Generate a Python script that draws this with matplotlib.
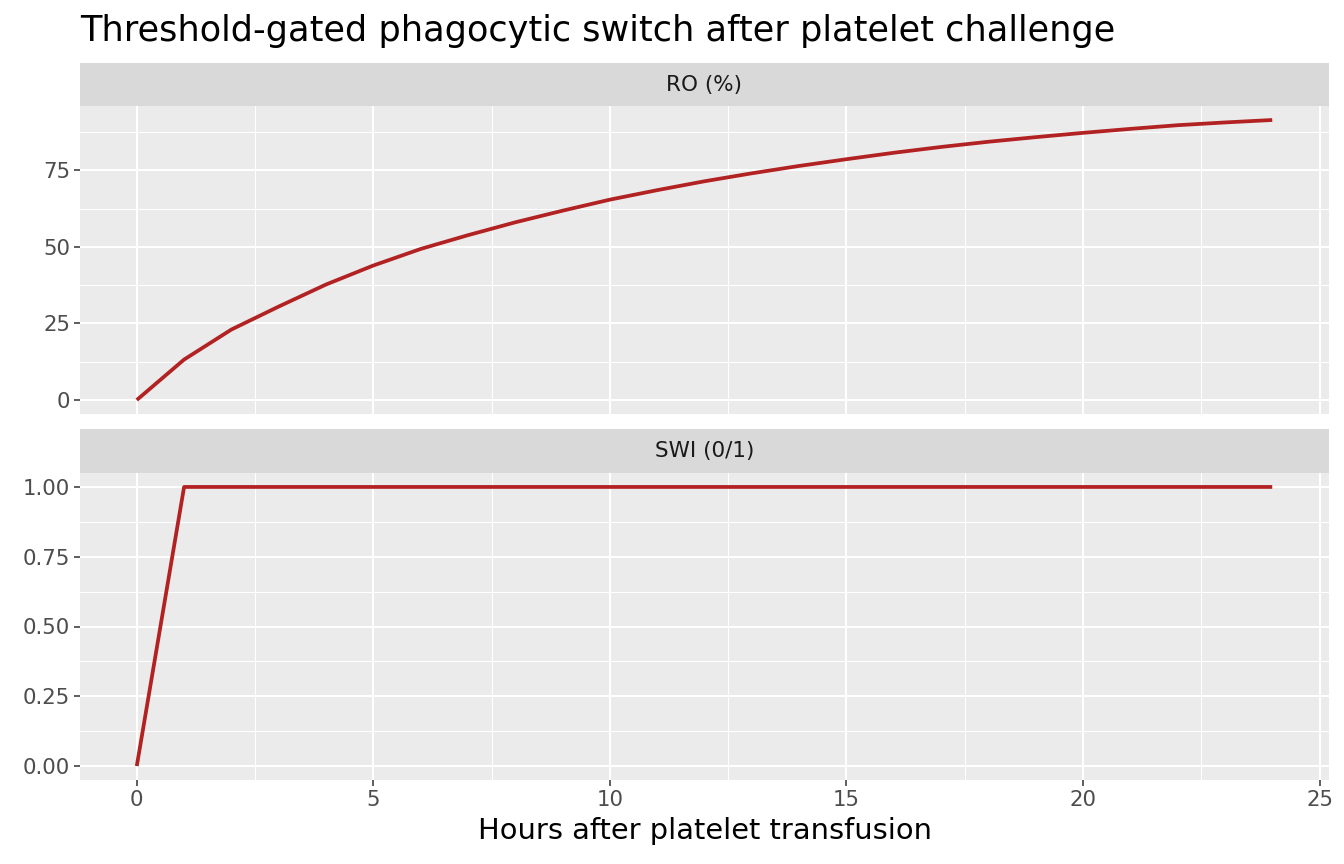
import numpy as np
import matplotlib
matplotlib.use("Agg")
import matplotlib.pyplot as plt
from matplotlib.ticker import MultipleLocator

hours = list(range(0, 25))
ro_pct = [0, 13.2, 23.0, 30.5, 37.7, 43.9, 49.3, 53.8, 58.0, 61.8, 65.4, 68.5, 71.4,
          74.0, 76.4, 78.6, 80.7, 82.6, 84.3, 85.8, 87.2, 88.5, 89.7, 90.6, 91.4]
swi = [0] + [1] * 24

panels = ["RO (%)", "SWI (0/1)"]
title = "Threshold-gated phagocytic switch after platelet challenge"
xlabel = "Hours after platelet transfusion"

W, H = 1344, 864
fig = plt.figure(figsize=(W / 100, H / 100), dpi=100)

def fx(px):
    return px / W

def fy(py):
    return 1 - py / H

line_col = "#B22222"
bg = "#EBEBEB"
strip_bg = "#D9D9D9"

def make_panel(top_px, bot_px, strip_top_px, label, yvals, yticks, ylabels, minor, show_x):
    ax = fig.add_axes([fx(80), fy(bot_px), fx(1329) - fx(80), fy(top_px) - fy(bot_px)])
    ax.set_facecolor(bg)
    for s in ax.spines.values():
        s.set_visible(False)
    ax.plot(hours, yvals, color=line_col, lw=2.7, solid_capstyle="butt", zorder=3)
    ax.set_xlim(-1.2, 25.2)
    lo, hi = min(yvals), max(yvals)
    pad = (hi - lo) * 0.05
    ax.set_ylim(lo - pad, hi + pad)
    ax.set_xticks([0, 5, 10, 15, 20, 25])
    ax.xaxis.set_minor_locator(MultipleLocator(2.5))
    ax.set_yticks(yticks)
    ax.set_yticklabels(ylabels)
    ax.yaxis.set_minor_locator(MultipleLocator(minor))
    ax.grid(which="major", color="white", lw=1.5)
    ax.grid(which="minor", color="white", lw=0.75)
    ax.set_axisbelow(True)
    ax.tick_params(which="major", length=4.5, width=1.1, color="#333333",
                   labelcolor="#4D4D4D", labelsize=15.3, pad=2.5)
    ax.tick_params(which="minor", length=0)
    if not show_x:
        ax.tick_params(axis="x", which="both", length=0, labelbottom=False)
    # strip on top
    sax = fig.add_axes([fx(80), fy(top_px), fx(1329) - fx(80), fy(strip_top_px) - fy(top_px)])
    sax.set_facecolor(strip_bg)
    sax.set_xticks([])
    sax.set_yticks([])
    for s in sax.spines.values():
        s.set_visible(False)
    sax.text(0.5, 0.5, label, ha="center", va="center", fontsize=15.5,
             color="#1A1A1A", transform=sax.transAxes)
    return ax

ax1 = make_panel(106, 414, 63, panels[0], ro_pct, [0, 25, 50, 75],
                 ["0", "25", "50", "75"], 12.5, False)
ax2 = make_panel(473, 780, 429, panels[1], swi, [0, 0.25, 0.5, 0.75, 1.0],
                 ["0.00", "0.25", "0.50", "0.75", "1.00"], 0.125, True)
ax2.set_xlabel(xlabel, fontsize=20.8, color="black", labelpad=5)

fig.text(fx(80), fy(31), title, fontsize=25.3, color="black", ha="left", va="center")

fig.savefig("out.png", dpi=100, facecolor="white")
